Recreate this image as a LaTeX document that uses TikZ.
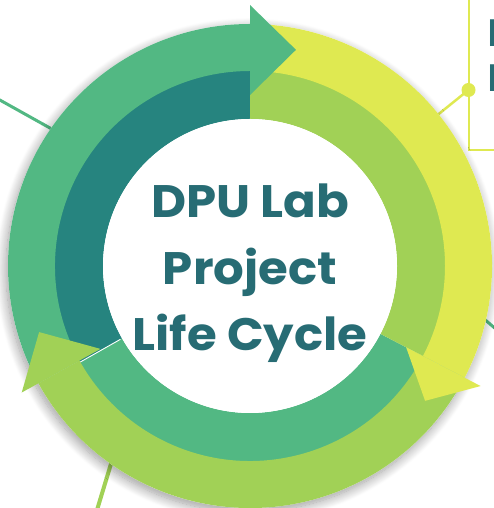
\documentclass[tikz,border=0pt]{standalone}
\usepackage{fontspec}
\setmainfont{Lato}
\newfontfamily\titlefont{Poppins}[FakeStretch=1.06]
\usetikzlibrary{calc,shadows.blur}
\definecolor{cteal}{HTML}{26847F}
\definecolor{cgreen}{HTML}{52B883}
\definecolor{clight}{HTML}{A1D156}
\definecolor{cyellow}{HTML}{DFE951}
\definecolor{ctext}{HTML}{276C74}
\newcommand\annsec[5]{%
  \fill[#1] ($(C)+(#2:#5pt)$) arc[start angle=#2, end angle=#3, radius=#5pt]
    -- ($(C)+(#3:#4pt)$) arc[start angle=#3, end angle=#2, radius=#4pt] -- cycle;}
\newcommand\arrhead[5]{% colour, base angle, tip angle, inner r, outer r
  \fill[#1] ($(C)+(#2:#5pt)$) -- ($(C)+(#3:221pt)$) -- ($(C)+(#2:#4pt)$) -- cycle;}
\tikzset{
  title/.style={font=\titlefont\bfseries\fontsize{45.5}{50}\selectfont, text=ctext, inner sep=0pt, anchor=base},
  link/.style={line width=3pt},
  sidetext/.style={font=\bfseries\fontsize{37}{40}\selectfont, text=ctext, inner sep=0pt, anchor=base west}
}
\begin{document}
\begin{tikzpicture}[x=1pt,y=1pt]
\useasboundingbox (0,0) rectangle (494,508);
\coordinate (C) at (250,242);
% connector lines (behind the ring)
\coordinate (ulA) at (-2,409);
\coordinate (ulB) at (75,366);
\draw[link, cgreen] (ulA) -- (ulB);
\coordinate (rA) at (497,178);
\coordinate (rB) at (476,196);
\draw[link, cgreen] (rA) -- (rB);
\coordinate (bA) at (97,-2);
\coordinate (bB) at (117,64);
\draw[line width=4pt, clight] (bA) -- (bB);
% callout box
\coordinate (boxTop) at (469,510);
\coordinate (boxCorner) at (469,358);
\coordinate (boxRight) at (496,358);
\draw[line width=1.5pt, cyellow] (boxTop) -- (boxCorner) -- (boxRight);
\node[circle, fill=cyellow, minimum size=14pt, inner sep=0pt] (dot) at (468.5,418) {};
\draw[line width=2.5pt, cyellow] (dot.center) -- ($(dot.center)!0.25!(C)$);
\node[sidetext] (t1) at (487,461) {P};
\node[sidetext] (t2) at (487,416) {D};
% shadow disc
\node[circle, fill=white, minimum size=484pt, inner sep=0pt,
  blur shadow={shadow xshift=-2pt, shadow yshift=-4pt, shadow blur radius=10pt, shadow opacity=40, shadow blur steps=14}] (disc) at (C) {};
% inner ring
\annsec{cteal}{90}{209.5}{147}{196}
\annsec{cgreen}{209.5}{332.5}{147}{196}
\annsec{clight}{-27.5}{90}{147}{196}
\draw[white, line width=0.9pt] ($(C)+(209.5:149pt)$) -- ($(C)+(209.5:196pt)$);
% outer bodies
\annsec{cgreen}{90}{209}{195}{242}
\annsec{cyellow}{-27.5}{90}{195}{242}
\annsec{clight}{-151}{-27.5}{195}{242}
% heads
\arrhead{cgreen}{90}{78}{171}{261}
\arrhead{cyellow}{-27.5}{-37.6}{176}{260}
\arrhead{clight}{209}{197.4}{171}{261}
% centre
\fill[white] (C) circle[radius=147pt];
\node[title] (l1) at (250,290) {DPU Lab};
\node[title] (l2) at (250,223) {Project};
\node[title] (l3) at (250,157) {Life Cycle};
\end{tikzpicture}
\end{document}
